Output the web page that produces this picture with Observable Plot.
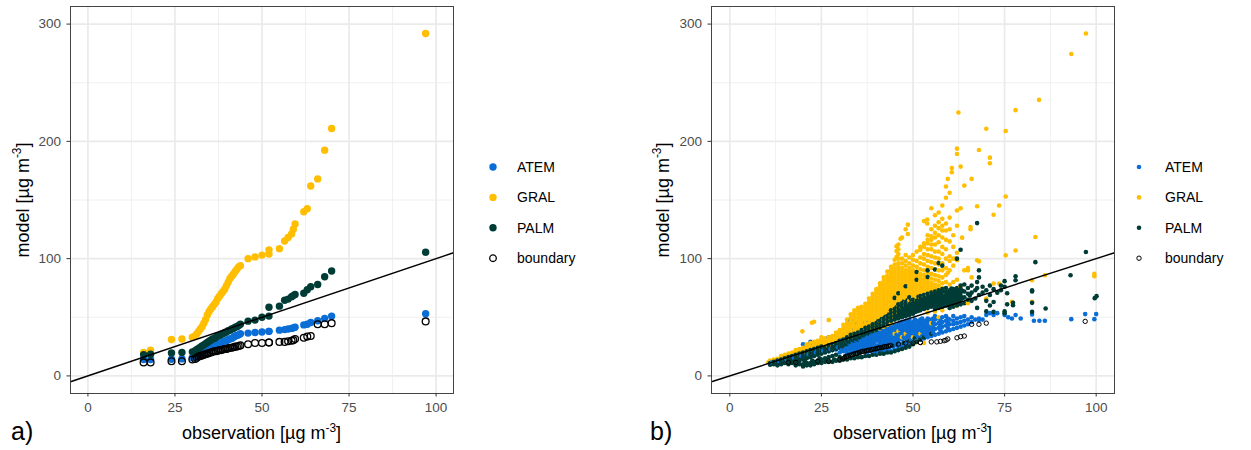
<!DOCTYPE html>
<html>
<head>
<meta charset="utf-8">
<script src="https://cdn.jsdelivr.net/npm/d3@7"></script>
<script src="https://cdn.jsdelivr.net/npm/@observablehq/plot@0.6"></script>
<style>
  html, body { margin: 0; padding: 0; background: #fff; }
  #chart { position: relative; width: 1251px; height: 450px; overflow: hidden;
           font-family: "Liberation Sans", Arial, sans-serif; color: #000; }
  .panel { position: absolute; top: 0; }
  .xtitle, .ytitle { position: absolute; font-size: 18px; line-height: 20px; height: 20px;
                     text-align: center; white-space: nowrap; color: #000; }
  .ytitle { transform: rotate(-90deg); transform-origin: center center; }
  .xtitle sup, .ytitle sup { font-size: 0.66em; line-height: 0; vertical-align: 0.62em; }
  .tag { position: absolute; font-size: 25px; line-height: 30px; color: #000; }
  .legend { position: absolute; top: 147px; overflow: visible; }
</style>
</head>
<body>
<div id="chart"></div>
<script>
// ---- scales, ticks and series styling ----
const xDomain = [-5, 105];
const yDomain = [-15, 315];
const xMajor = [0, 25, 50, 75, 100];
const xMinor = [12.5, 37.5, 62.5, 87.5];
const yMajor = [0, 100, 200, 300];
const yMinor = [50, 150, 250];
const models = ["ATEM", "GRAL", "PALM"];
const modelColors = ["#0A6ED6", "#FFBE00", "#003C36"];

// ---- a) sorted observations against sorted model / boundary values ----
const obsA = [16, 18, 24, 27, 30,
  30.8, 31.3, 31.8, 32.3, 32.8, 33.3, 33.8, 34.3, 34.8, 35.3, 35.8, 36.3, 36.8, 37.3, 37.8,
  38.3, 38.8, 39.3, 39.8, 40.3, 40.8, 41.3, 41.8, 42.3, 42.8, 43.3, 43.8,
  46, 48, 50, 52, 52, 55, 56.5, 57.5, 58.5, 59, 59.5, 62, 63, 64, 66, 68, 70, 97];
const atemA = [14, 14, 14.2, 14.5, 15.5,
  16, 17, 18, 19, 20, 21, 22, 22.5, 23, 24, 25, 25.5, 26, 27, 27.5,
  28, 29, 29.5, 30, 31, 31.5, 32, 33, 34, 34.5, 35, 36,
  36.5, 37, 37.5, 38, 38, 39, 39.5, 40, 40.5, 41, 41.5, 43.5, 44, 45.5, 47, 49, 51, 53];
const gralA = [20, 22, 31, 31.5, 33,
  34, 36, 38, 40, 42, 45, 48, 52, 55, 57, 59, 61, 63, 66, 68,
  70, 72, 74, 77, 80, 83, 85, 87, 89, 91, 93, 94,
  100, 101.5, 103, 104, 107.5, 108.5, 115, 118, 121, 125, 129.5, 140, 142.5, 162, 168, 192.5, 211, 292];
const palmA = [18, 18.5, 19.5, 20, 20.5,
  21.5, 22.5, 23.5, 24.5, 25.5, 26.5, 27.5, 28.5, 29.5, 30.5, 31.5, 32, 33, 34, 34.5,
  35.5, 36, 37, 37.5, 38.5, 39, 40, 40.5, 41.5, 42, 43, 44,
  46.7, 47.6, 50, 51, 58.5, 59.5, 64.5, 65.5, 67.5, 68.5, 69.5, 70.5, 73.5, 76, 78, 84.5, 89.5, 105.5];
const boundA = [11.5, 11.5, 12.5, 12.5, 14,
  14.5, 15.5, 16.5, 17, 17.5, 18, 18.5, 19, 19.5, 20, 20.5, 21, 21, 21.5, 22,
  22, 22.5, 23, 23, 23.5, 24, 24, 24.5, 25, 25, 25.5, 26,
  27, 28, 28, 28.5, 28.5, 29, 29, 29.5, 30, 30.5, 31.5, 32.5, 33.5, 34, 44, 44, 45, 46.5];

// ---- b) paired observation / model values, as [observation, [model values]] ----
const atemB = [
  [11,[11,12.5]],[11.5,[11.5]],[12,[11,12.5]],[13,[12,13.5]],[13.5,[12.5]],[14,[12.5,14]],[15,[13,14.5,16]],
  [15.5,[14]],[16,[14,15.5]],[17,[14.5,16]],[17.5,[15.5]],[18,[15,17,19]],[19,[16,18]],[19.5,[17]],
  [20,[16.5,18.5,27]],[21,[17,19.5]],[21.5,[18.5]],[22,[18,20,29]],[23,[18.5,21,27]],[23.5,[20]],
  [24,[19,22]],[25,[20,23,25]],[25.5,[21.5]],[26,[20.5,24]],[27,[21,25,33]],[27.5,[23]],[28,[22,25.5,28]],
  [29,[22.5,27]],[29.5,[24.5]],[30,[20,24,28]],[30.5,[22,26,30]],[31,[21,25,29]],[31.5,[23,27,31]],
  [32,[19,22,26,30]],[32.5,[24,28]],[33,[20,23,27,31,47]],[33.5,[21.5,25,29]],[34,[21,24,28,32,39]],
  [34.5,[22.5,26,30]],[35,[21,25,29,33,45]],[35.5,[23,27,31]],[36,[22,26,30,34]],[36.5,[24,28,32]],
  [37,[22,27,31,35,46]],[37.5,[20,25,29,33]],[38,[23,28,32,36,46.5]],[38.5,[21,26,30,34]],[39,[23,29,33,37]],
  [39.5,[21,27,31,35]],[40,[22,24,30,34,38]],[40.5,[20,26,32,36]],[41,[21,25,29,33,37,39]],[41.5,[23,27,31,35]],
  [42,[20,26,30,34,38,40,47.5]],[42.5,[22,28,32,36]],[43,[21,27,31,35,39,41]],[43.5,[24,29,33,37]],
  [44,[21,28,32,36,40,42]],[44.5,[25,30,34,38]],[45,[22,29,33,37,41,43]],[45.5,[26,31,35,39]],
  [46,[23,30,34,38,42,44]],[46.5,[27,32,36,40,45]],[47,[25,31,35,39,43,46]],[47.5,[28,33,37,41]],
  [48,[26,32,36,40,44,47]],[48.5,[29,34,38,42,45.5]],[49,[28,33,37,41,45,48]],[49.5,[31,35,39,43]],
  [50,[29,34,38,42,46]],[50.5,[32,36,40,44,48]],[51,[30,35,39,43,47]],[51.5,[33,37,41,45]],
  [52,[31,36,40,44,48]],[52.5,[34,38,42,46,49]],[53,[32,37,41,45]],[53.5,[35,39,43,47]],
  [54,[33,38,42,46,49]],[54.5,[36,40,44,48]],[55,[34,39,43,47]],[55.5,[37,41,45,49]],[56,[35,40,44,48,51]],
  [57,[36,41,45,49]],[57.5,[39,43,47]],[58,[37,42,46,50]],[59,[38,43,47,51]],[59.5,[41,45,49]],
  [60,[39,44,48]],[61,[40,44,47,51]],[62,[41,45,49]],[63,[42,46,50]],[64,[43,47,51]],[65,[44,48]],
  [66,[46,50]],[67,[48]],[68,[47.6,49]],[69,[48]],[70,[52]],[71,[53.5]],[72,[52]],[73,[53.5]],[75,[52]],
  [76,[50]],[77,[49]],[78,[52]],[79.4,[49]],[82.5,[52.4]],[83,[47]],[84.5,[47]],[86,[47]],[93.2,[48.4]],
  [97,[52.7]],[99.5,[48.4]],[100,[52.7]]
];
const gralB = [
  [10.5,[11.5]],[11,[11,13]],[12,[12,14]],[13,[12.5,14.5]],[14,[13,15,17]],[15,[14,16,18]],[16,[15,17,19]],
  [17,[16,18,20]],[18,[16,18,20,22]],[19,[17,19,21,23]],[19.8,[38]],[20,[18,20,22,24]],[21,[19,21,23,25,27]],
  [22,[20,22,24,26,28]],[22.4,[45.3]],[23,[21,23,25,27,29,46.2]],[24,[22,24,26,28,30]],[25,[23,25,27,29,31,33]],
  [26,[24,26,28,30,32]],[27,[25,27,29,31,33,47.6]],[28,[26,28,30,32,34]],[29,[27,29,31,33,35,37]],
  [30,[30,33,36,39]],[31,[31.5,34.5,37.5,40.5,43.5]],[32,[30,33,36,39,42,45,48]],
  [33,[31.5,34.5,37.5,40.5,43.5,46.5,49.5,52.5]],[34,[33,36,39,42,45,48,51,54,56]],
  [35,[34.5,37.5,40.5,43.5,46.5,49.5,52.5,55.5,58]],[36,[36,39,42,45,48,51,54,57,59]],
  [37,[37.5,40.5,43.5,46.5,49.5,52.5,55.5,58.5,61.5]],[38,[39,42,45,48,51,54,57,60,63,66]],
  [39,[40.5,43.5,46.5,49.5,52.5,55.5,58.5,61.5,64.5,67.5,70]],
  [40,[39,42,45,48,51,54,57,60,63,66,69,72,74]],
  [41,[40.5,43.5,46.5,49.5,52.5,55.5,58.5,61.5,64.5,67.5,70.5,73.5,76.5,79]],
  [42,[42,45,48,51,54,57,60,63,66,69,72,75,78,81,84]],
  [43,[43.5,46.5,49.5,52.5,55.5,58.5,61.5,64.5,67.5,70.5,73.5,76.5,79.5,82.5,85.5,89]],
  [44,[45,48,51,54,57,60,63,66,69,72,75,78,81,84,87,90,93]],
  [45,[36,49.5,52.5,55.5,58.5,61.5,64.5,67.5,70.5,73.5,76.5,79.5,82.5,85.5,88.5,91.5,95,99]],
  [45.5,[101.4,106.5,110.5]],
  [46,[38,54,57,60,63,66,69,72,75,78,81,84,87,90,93,96,100,104,108,112]],[46.6,[117]],
  [47,[33,58.5,61.5,64.5,67.5,70.5,73.5,76.5,79.5,82.5,85.5,88.5,92,96,100,118]],
  [48,[36,60,63,66,69,72,75,78,81,84,87,90,94,98,103,125]],[48.6,[121,129]],
  [49,[30,61.5,64.5,67.5,70.5,73.5,76.5,79.5,82.5,85.5,88.5,92,96,101]],
  [50,[33,63,66,69,72,75,78,81,84,87,90,94,99,103]],
  [51,[29,64.5,67.5,70.5,73.5,76.5,79.5,82.5,85.5,89,93,98,106]],
  [52,[36,66,69,72,75,78,81,84,87,91,96,101,107.6,110]],
  [53,[28,67.5,70.5,73.5,76.5,79.5,82.5,86,90,95,100,104,110,113,132]],[53.9,[130,133.4]],
  [54,[54,69,72,75,78,81,84,88,93,98,103,108,113,116,120]],
  [55,[45,70.5,73.5,76.5,79.5,83,87,92,97,102,108,112,116,119,125,143]],
  [56,[55,72,75,78,82,86,91,96,101,106,112,118,122,128,137]],
  [57,[50,73.5,77,81,85,90,95,100,106,114,120,126,131,139.4]],
  [58,[56,75,79,84,90,96,104,110,118,124,128,134,145.3]],
  [59,[70,80,86,92,100,108,116,124,130,151.9,161.5]],
  [59.5,[88,168]],[60,[58,78,90,98,102,114.7,125,135,156.1]],[60.6,[173.6,177.3]],[61,[80,94,100,110,120]],
  [61.6,[100]],[62,[60,82,98.6,105,128,141,189.2,193.8]],[62.4,[224.6]],[63,[76,143,178.5]],[63.4,[117.9]],
  [64,[90,162.3]],[65,[62,90,92]],[65.7,[125,127]],[66,[84,168]],[67.5,[98.6,144.7]],[68,[97.7,192.6]],
  [70,[66,210.8]],[71,[181.3,186.1]],[72,[78.8,137.4]],[73.5,[78.8,145.3]],[75.3,[102.8,153,208.8]],
  [77,[63.2]],[78,[107,226.6]],[82.5,[63.2,81.6]],[83.4,[118.4]],[84.4,[235.4]],[86,[85.8]],[93.2,[274.5]],
  [97.2,[292]],[99.5,[85,87]]
];
const palmB = [
  [11,[9.5,11]],[12,[10,12]],[12.5,[11]],[13,[9,11,13]],[14,[10,12,14]],[14.5,[11]],[15,[11,13,15]],
  [16,[10,12,14,16]],[16.5,[13]],[17,[11,13,15,17]],[18,[9,12,14,16,18]],[18.5,[15]],[19,[10,13,15,17,19]],
  [20,[8,10,14,16,18,20]],[20.5,[12]],[21,[9,11,15,17,19,21]],[22,[9,11,16,18,20,22]],[22.5,[13]],
  [23,[10,12,17,19,21,23]],[24,[11,13,18,20,22,24]],[24.5,[15]],[25,[11,14,19,21,23,25]],
  [26,[12,15,20,22,24]],[27,[12,16,21,23,26]],[28,[12,17,22,24,27]],[28.5,[14,25]],[29,[13,18,23,26,28]],
  [30,[13,16,24,27,30]],[30.5,[25.5,28.5]],[31,[14,25,28,31]],[31.5,[17,26.5,29.5]],[32,[14,27,30,33]],
  [32.5,[18,28.5,31.5]],[33,[15,29,32,35]],[33.5,[30.5,33.5]],[34,[15,19,30,33,36]],[34.5,[31.5,34.5]],
  [35,[16,31,34,37]],[35.5,[20,32.5,35.5]],[36,[16,33,36,39]],[36.5,[34.5,37.5]],[37,[17,21,35,38,41]],
  [37.5,[36.5,39.5]],[38,[17,36,39,42]],[38.5,[22,37.5,40.5]],[39,[18,38,41,44]],[39.5,[39.5,42.5]],
  [40,[18,23,39,42,45]],[40.5,[40.5,43.5,46.5]],[41,[19,41,44,47]],[41.5,[24,42.5,45.5,48.5]],
  [42,[19,43,46,49]],[42.5,[44.5,47.5,50.5]],[43,[20,25,45,48,51]],[43.5,[46.5,49.5,52.5]],
  [44,[20,47,50,53,56]],[44.5,[26,48.5,51.5,54.5]],[45,[21,48,51,54,57,66.5]],[45.5,[49.5,52.5,55.5,58.5]],
  [46,[22,27,49,52,55,58,61,70.5]],[46.5,[50.5,53.5,56.5,59.5]],[47,[23,50,53,56,59,62]],
  [47.5,[28,51.5,54.5,57.5,60.5,63.5]],[48,[24,51,54,57,60,63,76.5]],[48.5,[52.5,55.5,58.5,61.5,64.5]],
  [49,[25,30,52,55,58,61,67]],[49.5,[53.5,56.5,59.5,62.5,65.5]],[50,[27,53,56,59,62,65]],
  [50.5,[32,54.5,57.5,60.5,63.5]],[51,[29,55,58,61,64,82,88.6]],[51.5,[55.5,58.5,61.5,64.5,67.5]],
  [52,[31,56,59,62,65,68]],[52.5,[57.5,60.5,63.5,66.5]],[53,[33,57,60,63,66,69]],
  [53.5,[58.5,61.5,64.5,67.5]],[54,[58,61,64,67,70,84.4,90]],[54.5,[59.5,62.5,65.5,68.5]],
  [55,[36,59,62,65,68,71]],[55.5,[60.5,63.5,66.5,69.5]],[56,[57,60,63,66,69,72,90.7]],
  [56.5,[58.5,61.5,64.5,67.5,70.5]],[57,[58,61,64,67,70,73,96.3]],[57.5,[59.5,62.5,65.5,68.5,71.5]],
  [58,[59,62,65,68,71,74,94]],[58.5,[60.5,63.5,66.5,69.5]],[59,[60,63,66,69,72,75]],
  [59.5,[61.5,64.5,67.5,70.5]],[60,[58,61,64,67,70,73]],[60.5,[62.5,65.5,68.5,71.5,74.5]],
  [61,[59,62,65,68,71,74]],[61.5,[63.5,66.5,69.5,72.5]],[62,[60,63,66,69,72,75,100]],
  [62.5,[64.5,67.5,70.5,73.5]],[63,[61,65,68,71,74,77,107.6]],[63.5,[66.5,72.5]],
  [64,[62,67,72,78]],[65,[65,70,75]],[65.5,[68.5]],[66,[64,71,77]],[67,[66,73]],[67.5,[58,75,80,130.3]],
  [68,[69,84,90]],[69,[71,76]],[70,[55,64,73]],[71,[60,69,77]],[72,[54.6,63,74]],[73,[71]],[74,[73,77]],
  [75,[53.5,55,76,80.8]],[75.7,[61,70.5]],[77.3,[60.3,62.3]],[78,[81.6,85]],[82.5,[54.6,62.3,72,73]],
  [83.4,[97]],[86.2,[57.5]],[93,[85.8]],[97.2,[105.6]],[99.6,[66.3]],[100.1,[68]]
];

// ---- data tables ----
const series = (ys, model) => obsA.map((x, i) => ({x, y: ys[i], model}));
const expand = (cols, model) => cols.flatMap(([x, ys]) => ys.map(y => ({x, y, model})));
const pointsB = d3.sort([...expand(atemB, "ATEM"), ...expand(gralB, "GRAL"), ...expand(palmB, "PALM")], d => d.x);
const boundaryPts = obsA.map((x, i) => ({x, y: boundA[i]}));

const FONT = '"Liberation Sans", Arial, sans-serif';
const chart = document.getElementById("chart");

function panel({left, width, marginLeft, marginRight, marks}) {
  const svg = Plot.plot({
    width, height: 450,
    marginLeft, marginRight, marginTop: 6, marginBottom: 57,
    x: {domain: xDomain},
    y: {domain: yDomain},
    color: {domain: models, range: modelColors},
    style: {fontFamily: FONT, background: "transparent", overflow: "visible"},
    marks: [
      Plot.gridX(xMinor, {stroke: "#EEEEEE", strokeOpacity: 1, strokeWidth: 0.9}),
      Plot.gridY(yMinor, {stroke: "#EEEEEE", strokeOpacity: 1, strokeWidth: 0.9}),
      Plot.gridX(xMajor, {stroke: "#EAEAEA", strokeOpacity: 1, strokeWidth: 1.7}),
      Plot.gridY(yMajor, {stroke: "#EAEAEA", strokeOpacity: 1, strokeWidth: 1.7}),
      ...marks,
      // 1:1 reference line across the full panel
      Plot.link([xDomain], {x1: d => d[0], y1: d => d[0], x2: d => d[1], y2: d => d[1],
                            stroke: "#000", strokeWidth: 1.4}),
      Plot.frame({stroke: "#444", strokeWidth: 1}),
      Plot.axisX(xMajor, {tickSize: 3.5, tickPadding: 5, fontSize: 13.5, stroke: "#333", fill: "#4D4D4D", label: null}),
      Plot.axisY(yMajor, {tickSize: 3.5, tickPadding: 6, fontSize: 13.5, stroke: "#333", fill: "#4D4D4D", label: null})
    ]
  });
  const wrap = document.createElement("div");
  wrap.className = "panel";
  wrap.style.left = left + "px";
  wrap.appendChild(svg);
  chart.appendChild(wrap);
}

function titles({plotLeft, plotRight, yTitleX, tag, tagLeft}) {
  const unit = ' [µg m<sup>-3</sup>]';
  const xt = document.createElement("div");
  xt.className = "xtitle";
  xt.style.left = plotLeft + "px";
  xt.style.width = (plotRight - plotLeft) + "px";
  xt.style.top = "423px";
  xt.innerHTML = "observation" + unit;
  chart.appendChild(xt);

  const yt = document.createElement("div");
  yt.className = "ytitle";
  yt.style.width = "387px";
  yt.style.left = (yTitleX - 193.5) + "px";
  yt.style.top = (199.5 - 10) + "px";
  yt.innerHTML = "model" + unit;
  chart.appendChild(yt);

  const t = document.createElement("div");
  t.className = "tag";
  t.style.left = tagLeft + "px";
  t.style.top = "416px";
  t.textContent = tag;
  chart.appendChild(t);
}

function legend({left, r, rOpen, openWidth, textX}) {
  const items = [
    ...models.map((m, i) => ({label: m, fill: modelColors[i], stroke: "none", r, sw: 0})),
    {label: "boundary", fill: "none", stroke: "#000", r: rOpen, sw: openWidth}
  ];
  const svg = d3.create("svg")
    .attr("class", "legend")
    .attr("width", 150).attr("height", 135)
    .style("left", left + "px");
  const g = svg.selectAll("g").data(items).join("g")
    .attr("transform", (d, i) => `translate(13,${20 + 30.4 * i})`);
  g.append("circle")
    .attr("r", d => d.r).attr("fill", d => d.fill)
    .attr("stroke", d => d.stroke).attr("stroke-width", d => d.sw);
  g.append("text")
    .attr("x", textX).attr("dy", "0.36em")
    .style("font-family", FONT).style("font-size", "14px").attr("fill", "#000")
    .text(d => d.label);
  chart.appendChild(svg.node());
}

// Panel a: quantile–quantile comparison
panel({
  left: 0, width: 460, marginLeft: 70, marginRight: 7,
  marks: [
    ...models.map((m, i) => Plot.dot(series([atemA, gralA, palmA][i], m), {x: "x", y: "y", fill: "model", r: 3.7})),
    Plot.dot(boundaryPts, {x: "x", y: "y", r: 3.4, stroke: "#000", strokeWidth: 1.3, fill: "none"})
  ]
});
titles({plotLeft: 70, plotRight: 453, yTitleX: 22, tag: "a)", tagLeft: 11});
legend({left: 480, r: 3.7, rOpen: 3.3, openWidth: 1.3, textX: 24});

// Panel b: paired scatter
panel({
  left: 640, width: 480, marginLeft: 71, marginRight: 6,
  marks: [
    Plot.dot(pointsB, {x: "x", y: "y", fill: "model", r: 2.3}),
    Plot.dot(boundaryPts, {x: "x", y: "y", r: 2.2, stroke: "#000", strokeWidth: 1, fill: "none"})
  ]
});
titles({plotLeft: 711, plotRight: 1114, yTitleX: 662.5, tag: "b)", tagLeft: 650});
legend({left: 1126, r: 2.3, rOpen: 2.2, openWidth: 1, textX: 26});
</script>
</body>
</html>
